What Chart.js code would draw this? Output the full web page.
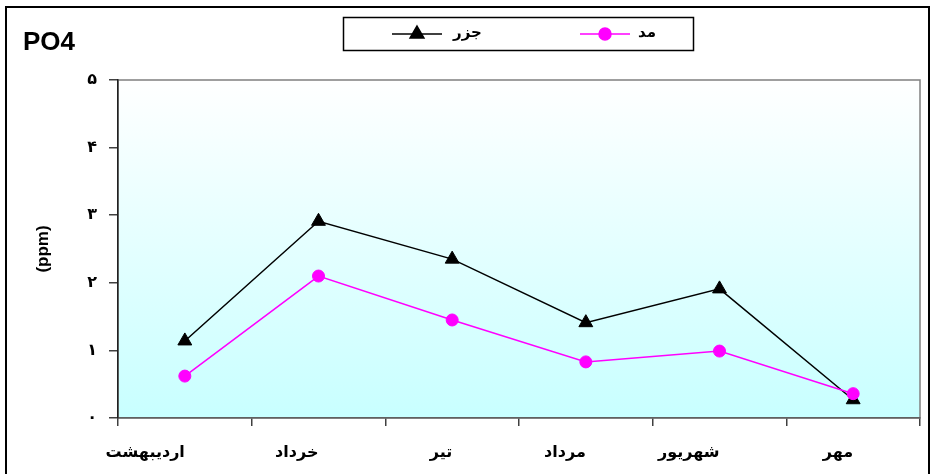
<!DOCTYPE html>
<html>
<head>
<meta charset="utf-8">
<script src="https://cdn.jsdelivr.net/npm/chart.js@4/dist/chart.umd.min.js"></script>
<style>
  html, body { margin: 0; padding: 0; background: #fff; }
  #wrap { width: 934px; height: 474px; position: relative; }
</style>
</head>
<body>
<div id="wrap"><canvas id="c" width="934" height="474"></canvas></div>
<script>
// Months (Persian calendar)
const categories = ['اردیبهشت', 'خرداد', 'تیر', 'مرداد', 'شهریور', 'مهر'];
// PO4 concentration, ppm
const jazrValues = [1.14, 2.91, 2.35, 1.41, 1.91, 0.27]; // ebb (جزر)
const maddValues = [0.62, 2.10, 1.45, 0.83, 0.99, 0.36]; // flood (مد)
// Persian digits for the value axis
const yTickLabels = ['۰', '۱', '۲', '۳', '۴', '۵'];
const seriesNames = ['جزر', 'مد'];
const chartTitle = 'PO4';
const yAxisTitle = '(ppm)';

const latinFont = "'Liberation Sans', Arial, sans-serif";
const persianFont = "'DejaVu Sans', 'Liberation Sans', sans-serif";

// page frame, title and plot background gradient
const framePlugin = {
  id: 'frame',
  beforeDraw(chart) {
    const ctx = chart.ctx;
    ctx.save();
    ctx.fillStyle = '#ffffff';
    ctx.fillRect(0, 0, chart.width, chart.height);
    const a = chart.chartArea;
    const g = ctx.createLinearGradient(0, a.top, 0, a.bottom);
    g.addColorStop(0, '#ffffff');
    g.addColorStop(1, '#c8ffff');
    ctx.fillStyle = g;
    ctx.fillRect(a.left, a.top, a.right - a.left, a.bottom - a.top);
    ctx.strokeStyle = '#808080';
    ctx.lineWidth = 1.5;
    ctx.strokeRect(a.left, a.top, a.right - a.left, a.bottom - a.top);
    ctx.restore();
  },
  afterDraw(chart) {
    const ctx = chart.ctx;
    ctx.save();
    // outer frame
    ctx.strokeStyle = '#000';
    ctx.lineWidth = 2;
    ctx.strokeRect(6, 7, 923, 480);
    // title
    ctx.fillStyle = '#000';
    ctx.font = 'bold 26px ' + latinFont;
    ctx.textBaseline = 'alphabetic';
    ctx.textAlign = 'left';
    ctx.fillText(chartTitle, 23, 50);
    // legend box
    ctx.lineWidth = 1.5;
    ctx.strokeRect(343.5, 17.5, 350, 33);
    const entries = [
      { ds: chart.data.datasets[1], x0: 392, x1: 442, tx: 453 },
      { ds: chart.data.datasets[0], x0: 580, x1: 630, tx: 638 }
    ];
    const ly = 34;
    entries.forEach(e => {
      ctx.strokeStyle = e.ds.borderColor;
      ctx.lineWidth = e.ds.borderWidth;
      ctx.beginPath();
      ctx.moveTo(e.x0, ly);
      ctx.lineTo(e.x1, ly);
      ctx.stroke();
      ctx.fillStyle = e.ds.pointBackgroundColor;
      ctx.strokeStyle = e.ds.pointBorderColor;
      Chart.helpers.drawPoint(ctx, {
        pointStyle: e.ds.pointStyle,
        radius: e.ds.pointRadius,
        borderWidth: 1,
        rotation: 0
      }, (e.x0 + e.x1) / 2, ly);
      ctx.fillStyle = '#000';
      ctx.font = 'bold 15px ' + persianFont;
      ctx.textAlign = 'left';
      ctx.textBaseline = 'middle';
      ctx.fillText(e.ds.label, e.tx, ly - 1);
    });
    ctx.restore();
  }
};

new Chart(document.getElementById('c'), {
  type: 'line',
  data: {
    labels: categories,
    datasets: [
      {
        label: seriesNames[1],
        data: maddValues,
        borderColor: '#ff00ff',
        backgroundColor: '#ff00ff',
        borderWidth: 1.5,
        pointStyle: 'circle',
        pointRadius: 6,
        pointBackgroundColor: '#ff00ff',
        pointBorderColor: '#ff00ff',
        pointBorderWidth: 1,
        tension: 0
      },
      {
        label: seriesNames[0],
        data: jazrValues,
        borderColor: '#000000',
        backgroundColor: '#000000',
        borderWidth: 1.5,
        pointStyle: 'triangle',
        pointRadius: 8,
        pointBackgroundColor: '#000000',
        pointBorderColor: '#000000',
        pointBorderWidth: 1,
        tension: 0
      }
    ]
  },
  options: {
    responsive: false,
    animation: false,
    devicePixelRatio: 1,
    layout: { padding: { left: 33, right: 14, top: 80, bottom: 0 } },
    plugins: {
      legend: { display: false },
      title: { display: false },
      tooltip: { enabled: false }
    },
    scales: {
      x: {
        type: 'category',
        offset: true,
        afterFit(scale) { scale.height = 56; },
        grid: {
          offset: true,
          drawOnChartArea: false,
          drawTicks: true,
          tickLength: 8,
          color: '#404040',
          lineWidth: 1.5
        },
        border: { display: true, color: '#606060', width: 1.5 },
        ticks: {
          align: 'end',
          maxRotation: 0,
          autoSkip: false,
          padding: 17,
          color: '#000',
          font: { family: persianFont, size: 16, weight: 'bold' }
        }
      },
      y: {
        min: 0,
        max: 5,
        afterFit(scale) { scale.width = 85; },
        grid: {
          drawOnChartArea: false,
          drawTicks: true,
          tickLength: 9,
          color: '#404040',
          lineWidth: 1.5
        },
        border: { display: true, color: '#202020', width: 1.5 },
        ticks: {
          stepSize: 1,
          padding: 12,
          color: '#000',
          font: { family: persianFont, size: 16, weight: 'bold' },
          callback: (v) => yTickLabels[v]
        },
        title: {
          display: true,
          text: yAxisTitle,
          color: '#000',
          padding: 0,
          font: { family: latinFont, size: 17, weight: 'bold' }
        }
      }
    }
  },
  plugins: [framePlugin]
});
</script>
</body>
</html>
